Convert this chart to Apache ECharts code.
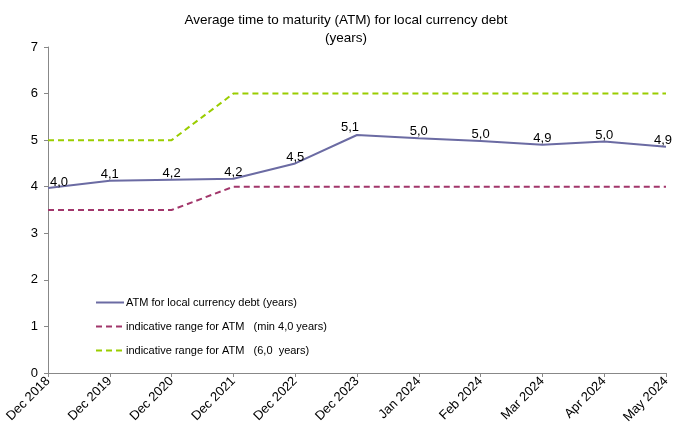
<!DOCTYPE html>
<html>
<head>
<meta charset="utf-8">
<script src="https://cdn.jsdelivr.net/npm/echarts@6/dist/echarts.min.js"></script>
<style>html,body{margin:0;padding:0;background:#fff;}#c{width:674px;height:434px;}</style>
</head>
<body>
<div id="c"></div>
<script>
var categories = ['Dec 2018','Dec 2019','Dec 2020','Dec 2021','Dec 2022','Dec 2023','Jan 2024','Feb 2024','Mar 2024','Apr 2024','May 2024'];
var atmValues = [3.97, 4.13, 4.15, 4.17, 4.50, 5.11, 5.04, 4.98, 4.90, 4.97, 4.86];
var minRange = [3.5, 3.5, 3.5, 4.0, 4.0, 4.0, 4.0, 4.0, 4.0, 4.0, 4.0];
var maxRange = [5.0, 5.0, 5.0, 6.0, 6.0, 6.0, 6.0, 6.0, 6.0, 6.0, 6.0];
var yTicks = [0, 7, 1];
var seriesNames = ['ATM for local currency debt (years)', 'indicative range for ATM   (min 4,0 years)', 'indicative range for ATM   (6,0  years)'];

var font = 'Liberation Sans, Arial, sans-serif';
var chart = echarts.init(document.getElementById('c'), null, {renderer: 'canvas'});
var atmData = atmValues.map(function (v, i) {
  var d = {value: v};
  if (i === 0) d.label = {offset: [11, 5]};
  if (i === 5) d.label = {offset: [-7, 3]};
  if (i === atmValues.length - 1) d.label = {offset: [-3, 4]};
  return d;
});
var clear = 'rgba(0,0,0,0)';
chart.setOption({
  animation: false,
  backgroundColor: '#fff',
  title: {
    text: 'Average time to maturity (ATM) for local currency debt\n(years)',
    left: 341, textAlign: 'center', top: 6,
    textStyle: {fontFamily: font, fontSize: 13.5, fontWeight: 'normal', color: '#000', lineHeight: 18}
  },
  legend: {
    orient: 'vertical', left: 90, top: 292, itemWidth: 28, itemHeight: 10, itemGap: 13,
    textStyle: {fontFamily: font, fontSize: 11, color: '#000', padding: [0,0,0,-3]},
    data: seriesNames
  },
  grid: {left: 48, right: 8, top: 47, bottom: 61, containLabel: false},
  xAxis: {
    type: 'category', data: categories, boundaryGap: false,
    axisLine: {lineStyle: {color: '#888', width: 1}},
    axisTick: {show: true, length: 4, lineStyle: {color: '#888'}, alignWithLabel: true},
    axisLabel: {rotate: 45, fontFamily: font, fontSize: 13, color: '#000', margin: 6, interval: 0},
    splitLine: {show: false}
  },
  yAxis: {
    type: 'value', min: yTicks[0], max: yTicks[1], interval: yTicks[2],
    axisLine: {show: true, lineStyle: {color: '#888', width: 1}},
    axisTick: {show: true, length: 4, lineStyle: {color: '#888'}},
    axisLabel: {fontFamily: font, fontSize: 13, color: '#000', margin: 10},
    splitLine: {show: false}
  },
  series: [
    {
      name: seriesNames[0], type: 'line', data: atmData, symbol: 'circle', symbolSize: 2, showSymbol: true,
      lineStyle: {color: '#6B6BA3', width: 2}, itemStyle: {color: clear, borderWidth: 0},
      label: {show: true, position: 'top', distance: 3, offset: [0, 4], fontFamily: font, fontSize: 13, color: '#000',
        formatter: function (p) { return p.value.toFixed(1).replace('.', ','); }},
      z: 3
    },
    {
      name: seriesNames[1], type: 'line', data: minRange, symbol: 'none',
      lineStyle: {color: '#A2366B', width: 2, type: [6, 4]}, itemStyle: {color: clear}, z: 2
    },
    {
      name: seriesNames[2], type: 'line', data: maxRange, symbol: 'none',
      lineStyle: {color: '#9ACD00', width: 2, type: [6, 4]}, itemStyle: {color: clear}, z: 2
    }
  ]
});
</script>
</body>
</html>
